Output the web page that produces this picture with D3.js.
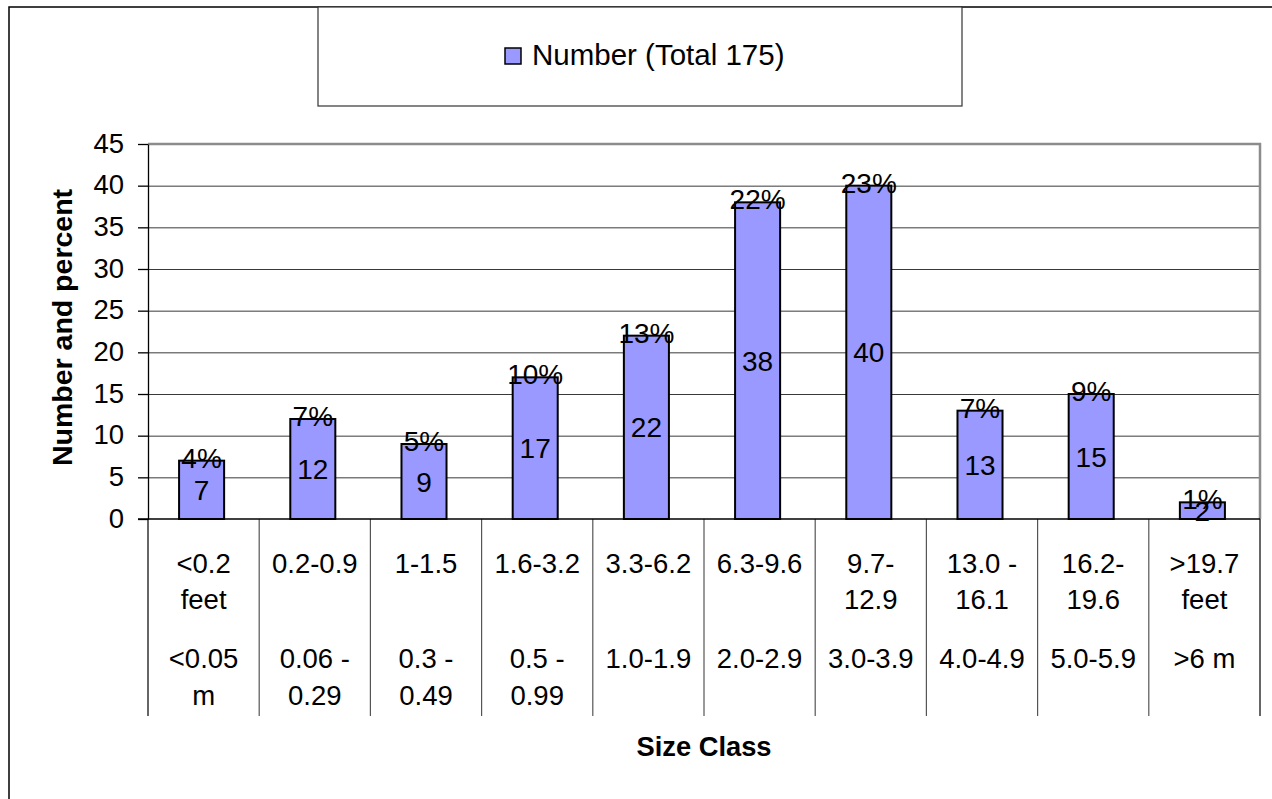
<!DOCTYPE html>
<html>
<head>
    <meta charset="UTF-8">
    <style>
        body { margin: 0; background: white; }
        svg { display: block; font-family: Arial, "Liberation Sans", sans-serif; }
        .grid line { stroke: #3a3a3a; stroke-width: 1px; }
        .grid path { display: none; }
        .yaxis text { font-size: 27.5px; fill: #000; }
        .yaxis line, .yaxis path { stroke: #000; stroke-width: 1.3px; }
    </style>
</head>
<body>
    <svg></svg>
    <script src="https://d3js.org/d3.v7.min.js"></script>
    <script>
        // data
        const categories = ["<0.2 ft", "0.2-0.9", "1-1.5", "1.6-3.2", "3.3-6.2", "6.3-9.6", "9.7-12.9", "13.0-16.1", "16.2-19.6", ">19.7"];
        const feetLabels = [["<0.2", "feet"], ["0.2-0.9"], ["1-1.5"], ["1.6-3.2"], ["3.3-6.2"], ["6.3-9.6"], ["9.7-", "12.9"], ["13.0 -", "16.1"], ["16.2-", "19.6"], [">19.7", "feet"]];
        const meterLabels = [["<0.05", "m"], ["0.06 -", "0.29"], ["0.3 -", "0.49"], ["0.5 -", "0.99"], ["1.0-1.9"], ["2.0-2.9"], ["3.0-3.9"], ["4.0-4.9"], ["5.0-5.9"], [">6 m"]];
        const counts = [7, 12, 9, 17, 22, 38, 40, 13, 15, 2];
        const percents = [4, 7, 5, 10, 13, 22, 23, 7, 9, 1];
        const yTicks = [0, 5, 10, 15, 20, 25, 30, 35, 40, 45];
        const legendLabel = "Number (Total 175)";

        const width = 1272, height = 799;
        const plot = { left: 148, right: 1260, top: 144, bottom: 519 };
        const barColor = "#9999ff";

        const svg = d3.select("svg").attr("width", width).attr("height", height);

        // outer chart frame (runs off the right and bottom edge)
        svg.append("rect")
            .attr("x", 9).attr("y", 7)
            .attr("width", width + 20).attr("height", height + 20)
            .attr("fill", "white").attr("stroke", "#000").attr("stroke-width", 1.5);

        const x = d3.scaleBand().domain(categories).range([plot.left, plot.right]).padding(0);
        const y = d3.scaleLinear().domain([0, 45]).range([plot.bottom, plot.top]);

        // gridlines
        svg.append("g")
            .attr("class", "grid")
            .attr("transform", "translate(" + plot.left + ",0)")
            .call(d3.axisLeft(y).tickValues(yTicks.filter(t => t > 0 && t < 45)).tickSize(-(plot.right - plot.left)).tickFormat(""));

        // plot area top and right border (grey)
        svg.append("path")
            .attr("d", "M" + plot.left + "," + y(45) + "H" + plot.right + "V" + y(0))
            .attr("fill", "none").attr("stroke", "#8c8c8c").attr("stroke-width", 2.5);

        // y axis
        const yAxis = svg.append("g")
            .attr("class", "yaxis")
            .attr("transform", "translate(" + plot.left + ",0)")
            .call(d3.axisLeft(y).tickValues(yTicks).tickSize(10).tickPadding(14).tickSizeOuter(0));
        yAxis.selectAll("text").attr("dy", "0.3em");

        // category table lines
        const dividers = categories.map(c => x(c)).concat([plot.right]);
        svg.append("g").selectAll("line")
            .data(dividers)
            .join("line")
            .attr("x1", d => d).attr("x2", d => d)
            .attr("y1", y(0)).attr("y2", 716)
            .attr("stroke", (d, i) => i === 0 || i === dividers.length - 1 ? "#000" : "#555")
            .attr("stroke-width", 1.2);

        // bars
        const barW = x.bandwidth() * 0.405;
        const cx = c => x(c) + x.bandwidth() / 2 - 2;
        svg.append("g").selectAll("rect")
            .data(categories)
            .join("rect")
            .attr("x", c => cx(c) - barW / 2)
            .attr("y", (c, i) => y(counts[i]))
            .attr("width", barW)
            .attr("height", (c, i) => y(0) - y(counts[i]))
            .attr("fill", barColor)
            .attr("stroke", "#000")
            .attr("stroke-width", 2);

        // x axis baseline
        svg.append("line")
            .attr("x1", plot.left - 10).attr("x2", plot.right)
            .attr("y1", y(0)).attr("y2", y(0))
            .attr("stroke", "#000").attr("stroke-width", 1.5);

        // count labels in the middle of the bars
        svg.append("g").selectAll("text")
            .data(categories)
            .join("text")
            .attr("x", cx)
            .attr("y", (c, i) => (y(counts[i]) + y(0)) / 2)
            .attr("dy", "0.36em")
            .attr("text-anchor", "middle")
            .attr("font-size", 28)
            .text((c, i) => counts[i]);

        // percent labels on the bar tops
        svg.append("g").selectAll("text")
            .data(categories)
            .join("text")
            .attr("x", cx)
            .attr("y", (c, i) => y(counts[i]) - 3)
            .attr("dy", "0.36em")
            .attr("text-anchor", "middle")
            .attr("font-size", 28)
            .text((c, i) => percents[i] + "%");

        // category labels: feet lines then metre lines
        const catText = svg.append("g")
            .attr("font-size", 27.5)
            .attr("text-anchor", "middle");
        categories.forEach((c, i) => {
            const mid = x(c) + x.bandwidth() / 2;
            feetLabels[i].forEach((t, j) => {
                catText.append("text").attr("x", mid).attr("y", 573 + j * 36).text(t);
            });
            meterLabels[i].forEach((t, j) => {
                catText.append("text").attr("x", mid).attr("y", 668 + j * 37).text(t);
            });
        });

        // axis titles
        svg.append("text")
            .attr("transform", "translate(72," + ((plot.top + plot.bottom) / 2 - 4) + ") rotate(-90)")
            .attr("text-anchor", "middle")
            .attr("font-size", 28.5)
            .attr("font-weight", "bold")
            .text("Number and percent");

        svg.append("text")
            .attr("x", (plot.left + plot.right) / 2)
            .attr("y", 756)
            .attr("text-anchor", "middle")
            .attr("font-size", 27.3)
            .attr("font-weight", "bold")
            .text("Size Class");

        // legend box
        const legend = svg.append("g");
        legend.append("rect")
            .attr("x", 318).attr("y", 7)
            .attr("width", 644).attr("height", 99)
            .attr("fill", "white").attr("stroke", "#333").attr("stroke-width", 1.2);
        legend.append("rect")
            .attr("x", 505).attr("y", 48)
            .attr("width", 16).attr("height", 16)
            .attr("fill", barColor).attr("stroke", "#000").attr("stroke-width", 1.5);
        legend.append("text")
            .attr("x", 532).attr("y", 65)
            .attr("font-size", 29.5)
            .text(legendLabel);
    </script>
</body>
</html>
